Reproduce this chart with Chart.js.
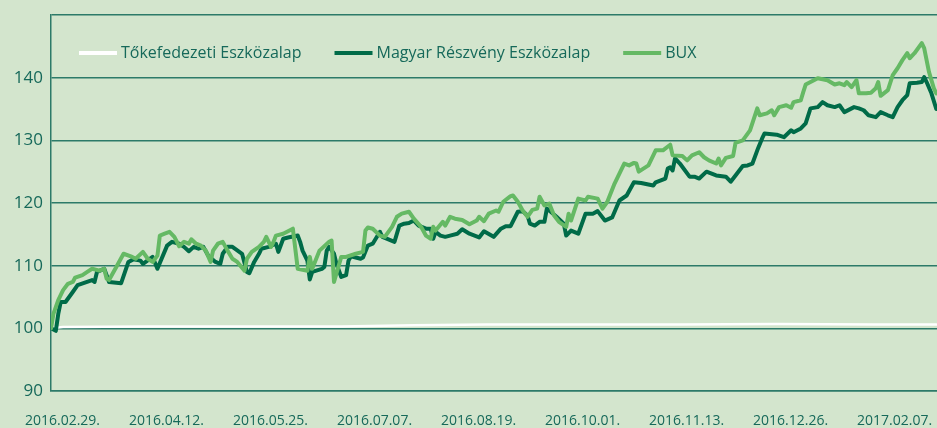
<!DOCTYPE html>
<html>
<head>
<meta charset="utf-8">
<script src="https://cdn.jsdelivr.net/npm/chart.js@4.4.1/dist/chart.umd.min.js"></script>
<style>
  html, body { margin: 0; padding: 0; background: #d3e5cd; }
  #chart { display: block; background: #d3e5cd; }
</style>
</head>
<body>
<canvas id="chart" width="937" height="428"></canvas>
<script>
// x = days since 2016.02.29.
const tickDays = [0, 43, 86, 129, 172, 215, 258, 301, 344];
const tickLabels = ['2016.02.29.', '2016.04.12.', '2016.05.25.', '2016.07.07.', '2016.08.19.',
                    '2016.10.01.', '2016.11.13.', '2016.12.26.', '2017.02.07.'];

const seriesNames = ['Tőkefedezeti Eszközalap', 'Magyar Részvény Eszközalap', 'BUX'];

const tokeDays   = [0, 5, 40, 100, 120, 150, 180, 220, 260, 300, 340, 366];
const tokeValues = [100.0, 100.2, 100.3, 100.3, 100.3, 100.5, 100.6, 100.6, 100.6, 100.7, 100.6, 100.6];

const magyarDays = [0, 2, 3, 4, 6, 9, 11, 17, 18, 19, 22, 24, 29, 32, 34, 37, 38, 42, 44, 48, 50, 53, 55, 57, 59, 61, 63, 65, 68, 70,
  71, 73, 75, 79, 81, 82, 84, 86, 87, 90, 93, 94, 96, 98, 102, 103, 104, 106, 107, 108, 112, 113, 114, 115, 117, 118, 120, 122, 123, 124,
  128, 129, 131, 133, 136, 137, 142, 144, 146, 148, 150, 152, 155, 157, 158, 159, 161, 163, 165, 168, 170, 173, 177, 179, 183, 186, 188, 190, 193, 195,
  197, 198, 200, 202, 204, 205, 206, 209, 212, 213, 215, 218, 221, 224, 226, 229, 232, 235, 238, 241, 244, 249, 250, 254, 255, 256, 257, 258, 260, 264,
  266, 268, 271, 275, 279, 281, 283, 286, 288, 290, 292, 294, 295, 300, 303, 306, 307, 310, 312, 314, 317, 319, 321, 324, 326, 328, 332, 334, 336, 338,
  341, 343, 346, 348, 350, 352, 354, 355, 358, 360, 361, 362, 364, 366];
const magyarValues = [100.0, 99.6, 102.3, 104.2, 104.2, 105.8, 106.9, 107.7, 107.4, 109.0, 109.5, 107.4, 107.2, 110.6, 111.0, 110.8, 110.3, 111.4, 109.5, 113.2, 113.8, 113.5, 113.0, 112.3, 113.0, 112.7, 113.0, 111.6, 110.6, 110.3,
  111.9, 113.0, 113.0, 111.9, 109.0, 108.8, 110.6, 111.9, 112.7, 113.0, 113.5, 112.2, 114.3, 114.5, 114.8, 113.8, 112.4, 110.8, 107.8, 109.0, 109.5, 109.8, 112.4, 113.0, 111.9, 110.3, 108.2, 108.5, 110.8, 111.5,
  111.1, 111.3, 113.2, 113.5, 115.4, 114.6, 113.8, 116.4, 116.7, 116.8, 117.2, 116.4, 115.9, 115.9, 114.3, 115.4, 114.8, 114.6, 114.8, 115.1, 115.8, 115.1, 114.5, 115.5, 114.6, 115.9, 116.3, 116.3, 118.6, 118.7,
  118.0, 116.7, 116.4, 117.0, 117.0, 119.1, 118.8, 117.8, 116.7, 114.8, 115.6, 115.1, 118.3, 118.3, 118.7, 117.2, 117.7, 120.4, 121.2, 123.3, 123.2, 122.8, 123.3, 123.9, 125.5, 125.7, 125.2, 127.1, 126.3, 124.2,
  124.2, 123.9, 125.0, 124.4, 124.2, 123.4, 124.4, 125.9, 126.0, 126.3, 128.4, 130.3, 131.1, 130.9, 130.5, 131.6, 131.3, 131.9, 132.7, 135.1, 135.3, 136.1, 135.6, 135.3, 135.6, 134.5, 135.3, 135.1, 134.8, 134.0,
  133.7, 134.5, 134.0, 133.7, 135.3, 136.4, 137.2, 139.1, 139.2, 139.3, 140.1, 139.3, 137.5, 135.0];

const buxDays = [0, 1, 3, 5, 7, 9, 10, 13, 15, 17, 20, 22, 23, 24, 27, 30, 33, 35, 38, 40, 42, 44, 45, 47, 49, 51, 53, 55, 57, 58,
  60, 62, 64, 66, 67, 69, 71, 73, 75, 77, 80, 81, 83, 86, 88, 89, 91, 92, 93, 96, 100, 102, 106, 107, 108, 111, 115, 116, 117, 120,
  122, 126, 129, 130, 131, 133, 136, 138, 141, 143, 145, 148, 150, 153, 155, 157, 158, 159, 162, 163, 165, 167, 170, 173, 176, 177, 179, 181, 184, 185,
  187, 190, 191, 193, 195, 197, 199, 201, 202, 204, 206, 208, 210, 213, 214, 215, 218, 221, 222, 226, 228, 230, 233, 237, 239, 241, 242, 243, 247, 250,
  253, 256, 257, 261, 263, 265, 268, 270, 272, 275, 276, 277, 279, 282, 283, 286, 289, 292, 293, 296, 298, 299, 301, 304, 306, 307, 310, 311, 312, 317,
  321, 324, 326, 328, 329, 331, 333, 334, 337, 339, 341, 342, 343, 346, 348, 350, 352, 354, 355, 357, 360, 361, 363, 365, 366];
const buxValues = [100.0, 102.3, 104.5, 106.1, 107.1, 107.4, 108.1, 108.5, 109.0, 109.5, 109.2, 109.5, 107.9, 107.7, 109.8, 111.9, 111.5, 111.1, 112.2, 111.1, 110.6, 111.6, 114.8, 115.1, 115.4, 114.6, 113.1, 113.8, 113.5, 114.2,
  113.5, 113.2, 112.4, 110.6, 112.4, 113.5, 113.8, 112.4, 111.1, 110.6, 109.2, 111.1, 112.2, 113.0, 113.8, 114.6, 113.0, 113.8, 114.8, 115.1, 115.9, 109.5, 109.2, 111.4, 109.5, 112.4, 113.8, 114.0, 107.4, 111.4,
  111.4, 111.9, 112.2, 115.6, 116.1, 115.9, 114.8, 114.6, 116.2, 117.8, 118.3, 118.6, 117.5, 116.2, 114.8, 114.3, 116.2, 115.6, 117.0, 116.4, 117.8, 117.5, 117.3, 116.6, 117.2, 117.8, 117.1, 118.3, 118.8, 118.6,
  120.2, 121.1, 121.2, 120.2, 118.8, 117.8, 118.9, 119.1, 121.0, 119.6, 119.9, 118.0, 117.0, 116.2, 118.3, 117.2, 120.7, 120.4, 121.0, 120.7, 119.1, 120.2, 123.1, 126.3, 126.0, 126.4, 126.3, 125.0, 126.0, 128.4,
  128.4, 129.3, 127.6, 127.5, 126.8, 127.6, 128.1, 127.3, 126.8, 126.3, 127.1, 126.0, 127.2, 127.5, 129.6, 130.0, 131.6, 135.1, 134.0, 134.3, 134.8, 134.0, 135.3, 135.6, 135.2, 136.1, 136.4, 137.7, 138.9, 139.9,
  139.6, 138.9, 139.1, 138.8, 139.3, 138.5, 139.6, 137.5, 137.5, 137.6, 138.3, 139.3, 137.1, 138.0, 140.4, 141.5, 142.8, 143.9, 143.1, 143.9, 145.5, 144.7, 140.9, 138.3, 137.5];

const yTicks = [90, 100, 110, 120, 130, 140];

const zip = (xs, ys) => xs.map((x, i) => ({ x: x, y: ys[i] }));

const textColor = '#16695a';
const gridColor = '#2c7a69';

// legend drawn inside the plot area, like the original
const innerLegend = {
  id: 'innerLegend',
  afterDraw(chart) {
    const ctx = chart.ctx;
    const sets = chart.data.datasets;
    let x = chart.chartArea.left + 28;
    const y = chart.chartArea.top + 38;
    ctx.save();
    ctx.font = '16px "Open Sans"';
    ctx.textBaseline = 'middle';
    sets.forEach((ds) => {
      ctx.fillStyle = ds.borderColor;
      ctx.fillRect(x, y - 2, 38, 4);
      ctx.fillStyle = textColor;
      ctx.fillText(ds.label, x + 42, y);
      x += 42 + ctx.measureText(ds.label).width + 33;
    });
    ctx.restore();
  }
};

new Chart(document.getElementById('chart').getContext('2d'), {
  type: 'line',
  data: {
    datasets: [
      { label: seriesNames[0], data: zip(tokeDays, tokeValues), borderColor: '#ffffff', borderWidth: 2.5, order: 2 },
      { label: seriesNames[1], data: zip(magyarDays, magyarValues), borderColor: '#006b48', borderWidth: 4, order: 1 },
      { label: seriesNames[2], data: zip(buxDays, buxValues), borderColor: '#65b964', borderWidth: 4, order: 0 }
    ]
  },
  options: {
    responsive: false,
    animation: false,
    layout: { padding: { top: 15, right: 0, bottom: 0, left: 0 } },
    elements: {
      point: { radius: 0 },
      line: { tension: 0, borderJoinStyle: 'round', borderCapStyle: 'round' }
    },
    plugins: { legend: { display: false }, tooltip: { enabled: false } },
    scales: {
      x: {
        type: 'linear',
        min: 0,
        max: 366.3,
        grid: { display: false, drawTicks: false },
        border: { display: true, color: gridColor, width: 1.5 },
        afterBuildTicks: (axis) => { axis.ticks = tickDays.map(v => ({ value: v })); },
        afterFit: (scale) => {
          scale.height = 37;
          scale.paddingLeft = 0;
          scale.paddingRight = 0;
        },
        ticks: {
          autoSkip: false,
          maxRotation: 0,
          padding: 22,
          labelOffset: 11.5,
          color: textColor,
          font: { family: 'Open Sans', size: 14 },
          callback: (v, i) => tickLabels[i]
        }
      },
      y: {
        min: 90,
        max: 150,
        afterFit: (scale) => {
          scale.width = 51;
          scale.paddingTop = 0;
          scale.paddingBottom = 0;
        },
        grid: { color: gridColor, lineWidth: 1.5, drawTicks: false },
        border: { display: true, color: gridColor, width: 1.5 },
        ticks: {
          stepSize: 10,
          padding: 8,
          color: textColor,
          font: { family: 'Open Sans', size: 17 },
          callback: (v) => yTicks.includes(v) ? String(v) : ''
        }
      }
    }
  },
  plugins: [innerLegend]
});
</script>
</body>
</html>
